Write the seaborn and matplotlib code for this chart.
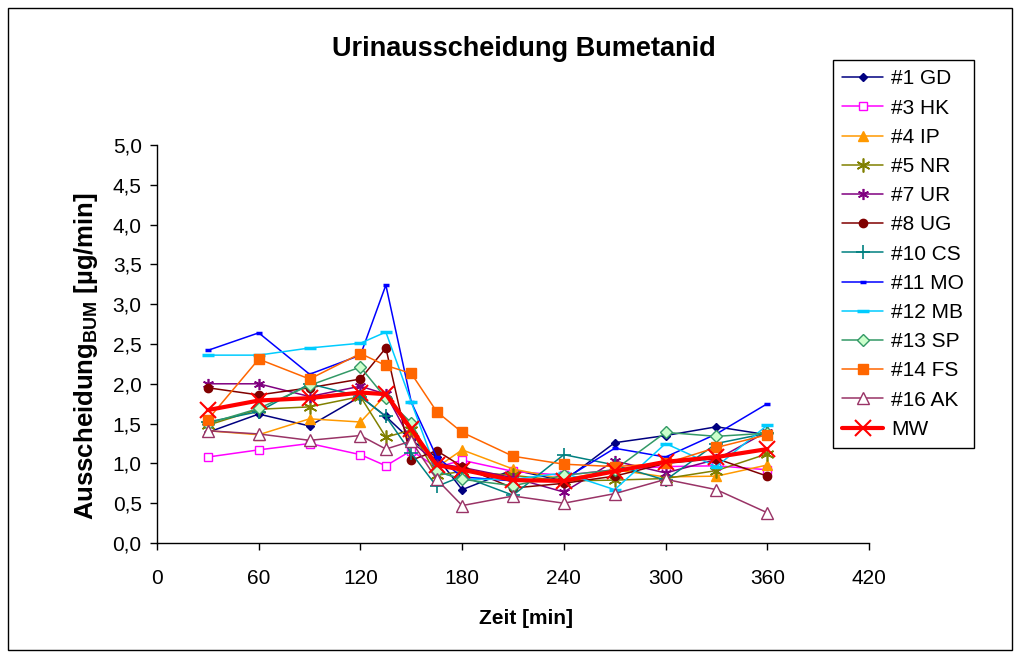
import matplotlib
matplotlib.use("Agg")
import matplotlib.pyplot as plt
from matplotlib.patches import Rectangle
from matplotlib.ticker import FuncFormatter, MultipleLocator
import seaborn as sns

# Sampling times [min]
zeit = [30, 60, 90, 120, 135, 150, 165, 180, 210, 240, 270, 300, 330, 360]

# Urinary bumetanide excretion per subject [µg/min]
gd = [1.39, 1.62, 1.47, 1.84, 1.59, 1.29, 1.08, 0.67, 0.92, 0.78, 1.26, 1.35, 1.46, 1.36]
hk = [1.08, 1.17, 1.25, 1.11, 0.97, 1.16, 0.95, 1.04, 0.90, 0.85, 0.92, 0.96, 0.97, 0.92]
ip = [1.41, 1.36, 1.56, 1.52, 1.86, 1.40, 0.95, 1.17, 0.93, 0.80, 0.92, 0.83, 0.84, 0.98]
nr = [1.48, 1.68, 1.71, 1.84, 1.33, 1.42, 0.85, 0.90, 0.85, 0.78, 0.79, 0.81, 0.91, 1.12]
ur = [2.00, 2.00, 1.84, 1.97, 1.87, 1.28, 1.00, 0.95, 0.82, 0.64, 1.03, 0.88, 1.05, 1.40]
ug = [1.95, 1.86, 1.95, 2.06, 2.45, 1.04, 1.16, 0.96, 0.69, 0.75, 0.84, 1.00, 1.06, 0.84]
cs = [1.52, 1.65, 2.00, 1.84, 1.59, 1.13, 0.71, 0.84, 0.60, 1.11, 0.98, 0.79, 1.25, 1.38]
mo = [2.42, 2.64, 2.12, 2.36, 3.24, 1.77, 1.08, 0.83, 0.78, 0.80, 1.19, 1.08, 1.37, 1.75]
mb = [2.36, 2.36, 2.45, 2.51, 2.65, 1.77, 0.90, 0.80, 0.80, 0.88, 0.67, 1.25, 0.96, 1.48]
sp = [1.50, 1.69, 1.98, 2.21, 1.82, 1.51, 0.90, 0.80, 0.72, 0.85, 0.92, 1.39, 1.34, 1.38]
fs = [1.55, 2.31, 2.06, 2.38, 2.23, 2.13, 1.65, 1.39, 1.09, 0.99, 0.96, 1.00, 1.20, 1.36]
ak = [1.41, 1.37, 1.29, 1.35, 1.18, 1.28, 0.80, 0.47, 0.59, 0.50, 0.62, 0.80, 0.67, 0.38]
mw = [1.67, 1.79, 1.82, 1.89, 1.87, 1.43, 0.98, 0.92, 0.79, 0.78, 0.90, 1.02, 1.08, 1.18]

labels = ["#1 GD", "#3 HK", "#4 IP", "#5 NR", "#7 UR", "#8 UG", "#10 CS",
          "#11 MO", "#12 MB", "#13 SP", "#14 FS", "#16 AK", "MW"]
values = [gd, hk, ip, nr, ur, ug, cs, mo, mb, sp, fs, ak, mw]

star = (6, 2, 0)
styles = [
    dict(color="#000080", marker="D", ms=4.5, mfc="#000080", mec="#000080", lw=1.1),
    dict(color="#FF00FF", marker="s", ms=6, mfc="white", mec="#FF00FF", lw=1.1),
    dict(color="#FF9900", marker="^", ms=7, mfc="#FF9900", mec="#FF9900", lw=1.1),
    dict(color="#808000", marker=star, ms=10, mfc="#808000", mec="#808000", mew=1.2, lw=1.1),
    dict(color="#800080", marker=star, ms=8, mfc="#800080", mec="#800080", mew=1.2, lw=1.1),
    dict(color="#800000", marker="o", ms=6, mfc="#800000", mec="#800000", lw=1.1),
    dict(color="#008080", marker="+", ms=10, mfc="#008080", mec="#008080", mew=1.2, lw=1.1),
    dict(color="#0000FF", marker="_", ms=5, mfc="#0000FF", mec="#0000FF", mew=2.5, lw=1.1),
    dict(color="#00CCFF", marker="_", ms=8, mfc="#00CCFF", mec="#00CCFF", mew=2.5, lw=1.1),
    dict(color="#339966", marker="D", ms=6, mfc="#CCFFCC", mec="#339966", lw=1.1),
    dict(color="#FF6600", marker="s", ms=7, mfc="#FF6600", mec="#FF6600", lw=1.1),
    dict(color="#993366", marker="^", ms=8, mfc="white", mec="#993366", lw=1.1),
    dict(color="#FF0000", marker="x", ms=12, mfc="#FF0000", mec="#FF0000", mew=1.5, lw=3.0),
]

sns.set_style("white")
plt.rcParams["font.family"] = ["Liberation Sans", "DejaVu Sans"]
plt.rcParams["mathtext.fontset"] = "custom"
plt.rcParams["mathtext.rm"] = "Liberation Sans"
plt.rcParams["mathtext.bf"] = "Liberation Sans:bold"
for key in ("text.color", "axes.labelcolor", "xtick.color", "ytick.color"):
    plt.rcParams[key] = "black"

fig = plt.figure(figsize=(10.2, 6.58), dpi=100)
fig.patch.set_facecolor("white")
ax = fig.add_axes([157 / 1020, 1 - 543 / 658, (869 - 157) / 1020, (543 - 145) / 658])

for lab, vals, st in zip(labels, values, styles):
    sns.lineplot(x=zeit, y=vals, ax=ax, label=lab, color=st["color"],
                 marker=st["marker"], markersize=st["ms"],
                 markerfacecolor=st["mfc"], markeredgecolor=st["mec"],
                 markeredgewidth=st.get("mew", 1.0), linewidth=st["lw"],
                 estimator=None, sort=False)

ax.set_xlim(0, 420)
ax.set_ylim(0, 5)
ax.xaxis.set_major_locator(MultipleLocator(60))
ax.yaxis.set_major_locator(MultipleLocator(0.5))
ax.yaxis.set_major_formatter(FuncFormatter(lambda v, p: f"{v:.1f}".replace(".", ",")))
ax.tick_params(axis="both", which="major", direction="out", length=5, width=1,
               color="black", labelcolor="black", labelsize=15,
               left=True, bottom=True)
ax.tick_params(axis="y", pad=6)
ax.tick_params(axis="x", pad=14)
for side in ("top", "right"):
    ax.spines[side].set_visible(False)
for side in ("left", "bottom"):
    ax.spines[side].set_color("black")
    ax.spines[side].set_linewidth(1)

ax.set_xlabel("")
ax.set_ylabel("")
fig.text(526 / 1020, 1 - 619 / 658, "Zeit [min]", ha="center", va="center",
         fontsize=15, fontweight="bold")
fig.text(86 / 1020, 1 - 356 / 658, r"Ausscheidung$_{\mathbf{BUM}}$ [µg/min]",
         ha="center", va="center", rotation=90, fontsize=18.5, fontweight="bold")
fig.text(524 / 1020, 1 - 49 / 658, "Urinausscheidung Bumetanid",
         ha="center", va="center", fontsize=19.5, fontweight="bold")

leg = ax.legend(loc="upper left", bbox_to_anchor=(833 / 1020, 1 - 60 / 658),
                bbox_transform=fig.transFigure, frameon=True, fancybox=False,
                edgecolor="black", framealpha=1, fontsize=15, handlelength=1.95,
                labelspacing=0.49, borderpad=0.45, handletextpad=0.4,
                borderaxespad=0)
leg.get_frame().set_linewidth(1)
for t in leg.get_texts():
    t.set_color("black")

fig.patches.append(Rectangle((8 / 1020, 8 / 658), 1004 / 1020, 642 / 658,
                             transform=fig.transFigure, fill=False,
                             edgecolor="black", linewidth=1))

fig.savefig("out.png", dpi=100, facecolor="white")
